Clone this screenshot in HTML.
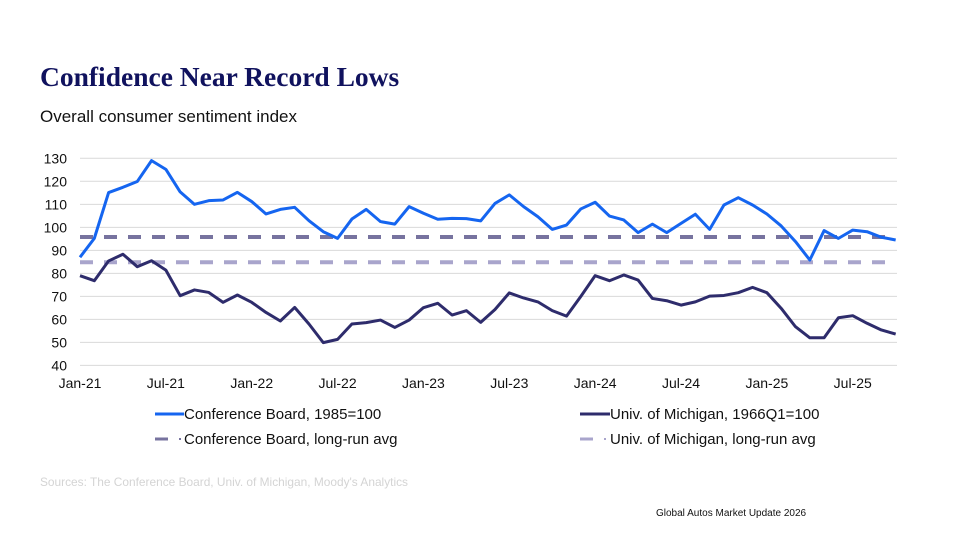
<!DOCTYPE html>
<html><head><meta charset="utf-8"><style>
body{margin:0;background:#fff;width:960px;height:540px;overflow:hidden;font-family:"Liberation Sans",Arial,sans-serif}
</style></head><body>
<svg width="960" height="540" xmlns="http://www.w3.org/2000/svg">
<text x="40" y="86" font-family="Liberation Serif,serif" font-weight="bold" font-size="27.5" fill="#10125e">Confidence Near Record Lows</text>
<text x="40" y="122" font-size="17" fill="#111">Overall consumer sentiment index</text>
<g id="grid"></g>
<g id="yticks" font-size="14" fill="#111" text-anchor="end"></g>
<g id="xticks" font-size="14" fill="#111" text-anchor="middle"></g>
<g id="series"></g>
<g font-size="15" fill="#111">
<g><line x1="155" y1="414" x2="184" y2="414" stroke="#1565f0" stroke-width="3"/><text x="184" y="419">Conference Board, 1985=100</text></g>
<g><line x1="580" y1="414" x2="610" y2="414" stroke="#2e2c6c" stroke-width="3"/><text x="610" y="419">Univ. of Michigan, 1966Q1=100</text></g>
<g><line x1="155" y1="439" x2="168" y2="439" stroke="#77739f" stroke-width="3"/><line x1="179" y1="439" x2="181" y2="439" stroke="#77739f" stroke-width="2"/><text x="184" y="444">Conference Board, long-run avg</text></g>
<g><line x1="580" y1="439" x2="593" y2="439" stroke="#a9a5cc" stroke-width="3"/><line x1="604" y1="439" x2="606" y2="439" stroke="#a9a5cc" stroke-width="2"/><text x="610" y="444">Univ. of Michigan, long-run avg</text></g>
</g>
<text x="40" y="486" font-size="11.9" fill="#d4d4d4">Sources: The Conference Board, Univ. of Michigan, Moody's Analytics</text>
<text x="656" y="516" font-size="10" fill="#111">Global Autos Market Update 2026</text>
</svg>
<script>
const months=["Jan-21","Jul-21","Jan-22","Jul-22","Jan-23","Jul-23","Jan-24","Jul-24","Jan-25","Jul-25"];
const yTicks=[40,50,60,70,80,90,100,110,120,130];
const confBoard=[87.0,95.2,115.1,117.4,119.9,129.0,125.2,115.4,110.0,111.6,111.9,115.2,111.2,105.8,107.8,108.7,102.9,98.1,95.2,103.6,107.8,102.5,101.4,109.0,106.1,103.5,103.9,103.8,102.8,110.4,114.1,109.0,104.6,99.1,101.0,108.0,110.9,104.9,103.2,97.7,101.4,97.7,101.7,105.7,99.1,109.7,112.9,109.7,105.8,100.6,93.8,85.8,98.6,95.2,98.8,98.1,95.7,94.5];
const michigan=[79.0,76.8,85.4,88.3,82.9,85.5,81.4,70.3,72.8,71.7,67.4,70.6,67.4,63.0,59.3,65.2,58.0,49.9,51.3,58.0,58.6,59.7,56.5,59.7,65.1,67.0,61.9,63.8,58.7,64.3,71.5,69.3,67.6,63.8,61.4,70.0,79.0,76.8,79.3,77.1,69.1,68.1,66.2,67.6,70.1,70.4,71.6,73.9,71.6,64.8,56.8,52.0,52.0,60.7,61.6,58.3,55.4,53.6];
const confAvg=[95.8];
const michAvg=[84.8];
const NS="http://www.w3.org/2000/svg";
const x0=80,x1=897,step=14.31;
const xs=i=>x0+i*step;
const ys=v=>365.4-(v-40)*(207.1/90);
function mk(t,a,p){const e=document.createElementNS(NS,t);for(const k in a)e.setAttribute(k,a[k]);p.appendChild(e);return e;}
const grid=document.getElementById('grid'),yt=document.getElementById('yticks'),xt=document.getElementById('xticks'),ser=document.getElementById('series');
yTicks.forEach(v=>{
 const l=mk('line',{x1:x0,x2:x1,y1:ys(v),y2:ys(v),stroke:'#d9d9d9','stroke-width':1},grid);
 
 
 const t=mk('text',{x:67,y:ys(v)+5},yt);t.textContent=v;
 
 
});
months.forEach((m,k)=>{
 const t=mk('text',{x:xs(k*6),y:388},xt);t.textContent=m;
 
 
});
const n=confBoard.length;
const a1=mk('line',{x1:x0,x2:xs(n-1),y1:ys(confAvg[0]),y2:ys(confAvg[0]),stroke:'#77739f','stroke-width':4,'stroke-dasharray':'13 11'},ser);


const a2=mk('line',{x1:x0,x2:xs(n-1),y1:ys(michAvg[0]),y2:ys(michAvg[0]),stroke:'#a9a5cc','stroke-width':4,'stroke-dasharray':'13 11'},ser);


const p1=mk('polyline',{points:confBoard.map((v,i)=>xs(i)+','+ys(v)).join(' '),fill:'none',stroke:'#1565f0','stroke-width':3,'stroke-linejoin':'round'},ser);


const p2=mk('polyline',{points:michigan.map((v,i)=>xs(i)+','+ys(v)).join(' '),fill:'none',stroke:'#2e2c6c','stroke-width':3,'stroke-linejoin':'round'},ser);


</script>
</body></html>
